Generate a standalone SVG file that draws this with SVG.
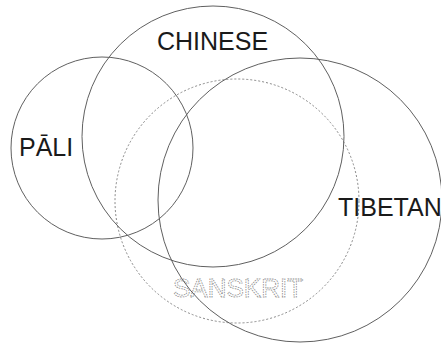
<svg xmlns="http://www.w3.org/2000/svg" width="441" height="343" viewBox="0 0 441 343">
<style>
.c{fill:none;stroke:#606060;stroke-width:1}
.d{fill:none;stroke:#888;stroke-width:1;stroke-dasharray:2 2}
.t{font-family:"Liberation Sans",Arial,sans-serif;font-size:25px;fill:#1a1a1a}
.s{font-family:"Liberation Sans",Arial,sans-serif;font-size:26px;fill:#fff;stroke:#8a8a8a;stroke-width:0.8;stroke-dasharray:1.5 1}
</style>
<rect width="441" height="343" fill="#fff"/>
<g id="sanskrit"><circle class="d" cx="237" cy="201" r="122"/><text class="s" x="173" y="297">SANSKRIT</text></g>
<g id="pali"><circle class="c" cx="102" cy="148" r="91"/><text class="t" x="19" y="156">PĀLI</text></g>
<g id="chinese"><ellipse class="c" cx="213" cy="136.5" rx="131" ry="130.5"/><text class="t" x="157" y="50">CHINESE</text></g>
<g id="tibetan"><circle class="c" cx="300" cy="200" r="142"/><text class="t" x="338" y="216">TIBETAN</text></g>
<g id="connectors"/>
</svg>
